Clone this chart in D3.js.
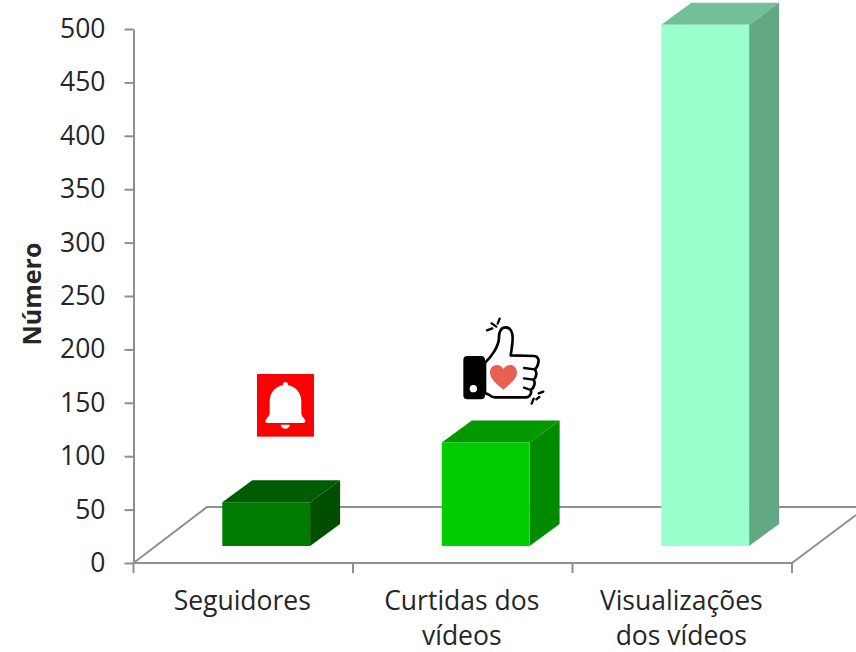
<!DOCTYPE html>
<html><head><meta charset="utf-8">
<script src="https://cdn.jsdelivr.net/npm/d3@7"></script>
<style>html,body{margin:0;background:#fff}svg{display:block}text{font-family:"Open Sans",sans-serif;fill:#262626}</style>
</head><body><svg id="c" width="856" height="652"></svg>
<script>
const categories = ["Seguidores", "Curtidas dos vídeos", "Visualizações dos vídeos"];
const categoryLines = [["Seguidores"], ["Curtidas dos", "vídeos"], ["Visualizações", "dos vídeos"]];
const values = [41, 97, 488];
const yTicks = [0, 50, 100, 150, 200, 250, 300, 350, 400, 450, 500];
const frontColors = ["#007a00", "#00cc00", "#99ffcc"];
const topColors = ["#005c00", "#009900", "#73bf99"];
const sideColors = ["#004f00", "#008a00", "#63a885"];
const yTitle = "Número";

const svg = d3.select("#c");
const axisColor = "#8f8f8f";
const plot = {left: 133.5, right: 792, top: 29, bottom: 563};
const depth = {dx: 30, dy: -22};
const floorShift = {dx: 0, dy: -17};

const y = d3.scaleLinear().domain([0, 500]).range([plot.bottom, plot.top]);
const x = d3.scaleBand().domain(categories).range([plot.left, plot.right]);
const barW = x.bandwidth() * 0.4;

// floor
const wallY = y(0) - 56;
svg.append("path").attr("fill", "none").attr("stroke", axisColor).attr("stroke-width", 2)
  .attr("d", d3.line()([[plot.left, y(0)], [207, wallY], [856, wallY]]));
svg.append("path").attr("fill", "none").attr("stroke", axisColor).attr("stroke-width", 2)
  .attr("d", d3.line()([[plot.right, y(0)], [856, y(0) - 48]]));

// axes
const yAxis = svg.append("g").attr("transform", `translate(${plot.left},0)`)
  .call(d3.axisLeft(y).tickValues(yTicks).tickSize(9).tickPadding(19).tickSizeOuter(0));
yAxis.selectAll("path,line").attr("stroke", axisColor).attr("stroke-width", 2);
yAxis.selectAll("text").attr("font-size", 26.5).attr("dy", "0.32em").style("font-family", '"Open Sans",sans-serif').attr("fill", "#262626");

const edges = categories.map(c => x(c)).concat([plot.right]);
const xAxis = svg.append("g");
xAxis.append("line").attr("x1", plot.left - 1).attr("x2", plot.right).attr("y1", y(0)).attr("y2", y(0))
  .attr("stroke", axisColor).attr("stroke-width", 2);
xAxis.selectAll(".t").data(edges).join("line").attr("class", "t")
  .attr("x1", d => d).attr("x2", d => d).attr("y1", y(0)).attr("y2", y(0) + 10)
  .attr("stroke", axisColor).attr("stroke-width", 2);

// bars
const data = categories.map((c, i) => ({c, v: values[i], i}));
const bars = svg.append("g").selectAll("g").data(data).join("g");
const bx = d => x(d.c) + x.bandwidth() * 0.4 + 1;
const by = d => y(d.v) + floorShift.dy;
const base = y(0) + floorShift.dy;
bars.append("path").attr("fill", d => topColors[d.i])
  .attr("d", d => d3.line()([[bx(d), by(d)], [bx(d) + depth.dx, by(d) + depth.dy], [bx(d) + barW + depth.dx, by(d) + depth.dy], [bx(d) + barW, by(d)]]) + "Z");
bars.append("path").attr("fill", d => sideColors[d.i])
  .attr("d", d => d3.line()([[bx(d) + barW, by(d)], [bx(d) + barW + depth.dx, by(d) + depth.dy], [bx(d) + barW + depth.dx, base + depth.dy], [bx(d) + barW, base]]) + "Z");
bars.append("rect").attr("fill", d => frontColors[d.i])
  .attr("x", bx).attr("y", by).attr("width", barW).attr("height", d => base - by(d));

// category labels
svg.append("g").selectAll("text").data(data).join("text")
  .attr("text-anchor", "middle").attr("font-size", 26.5)
  .attr("transform", d => `translate(${x(d.c) + x.bandwidth() / 2 - 1},610)`)
  .selectAll("tspan").data(d => categoryLines[d.i]).join("tspan")
  .attr("x", 0).attr("y", (d, i) => i * 34.5).text(d => d);

// y title
svg.append("text").attr("transform", "translate(41,294) rotate(-90)").attr("text-anchor", "middle")
  .attr("font-size", 25).attr("font-weight", 700).text(yTitle);

// bell icon
const bell = svg.append("g").attr("transform", "translate(120,360) scale(0.3333)");
bell.append("rect").attr("x", 411).attr("y", 42).attr("width", 171).attr("height", 188).attr("fill", "#ff0000");
bell.append("path").attr("fill", "#fff")
  .attr("d", "M496 66C501 66 504 70 504 75C530 81 544 100 544 125L544 160C544 170 556 176 556 184C556 187 553 189 549 189L443 189C439 189 436 187 436 184C436 176 449 170 449 160L449 125C449 100 463 81 489 75C489 70 491 66 496 66Z");
bell.append("path").attr("fill", "#fff").attr("d", "M482 194L510 194C508 203 502 206 496 206C490 206 484 203 482 194Z");

// thumbs-up icon
const thumb = svg.append("g").attr("transform", "translate(440,310) scale(0.3333)");
thumb.append("rect").attr("x", 70).attr("y", 138).attr("width", 65).attr("height", 130).attr("rx", 12).attr("fill", "#000");
thumb.append("circle").attr("cx", 100).attr("cy", 236).attr("r", 11).attr("fill", "#fff");
thumb.append("path").attr("fill", "#fff").attr("stroke", "#000").attr("stroke-width", 8).attr("stroke-linejoin", "round")
  .attr("d", "M135 158C155 140 175 110 177 85C176 62 185 52 197 52C212 52 218 68 218 85C218 105 214 120 212 136L282 138C294 138 297 150 295 158C294 168 290 174 284 178C292 184 290 204 280 209C288 216 282 236 272 240C276 248 270 262 258 262L165 262C150 262 148 250 135 250Z");
thumb.append("path").attr("fill", "none").attr("stroke", "#000").attr("stroke-width", 7).attr("stroke-linecap", "round")
  .attr("d", "M252 174L284 178M252 205L280 209M252 233L272 240M141 61L157 55M155 40L169 50M173 41L179 26M275 281L281 266M289 268L298 261M296 250L310 245");
thumb.append("path").attr("fill", "#e8604f")
  .attr("d", "M190 239C170 222 150 208 150 187C150 172 161 165 171 165C180 165 187 170 190 177C194 170 201 165 210 165C221 165 231 173 231 187C231 208 210 222 190 239Z");
</script></body></html>
